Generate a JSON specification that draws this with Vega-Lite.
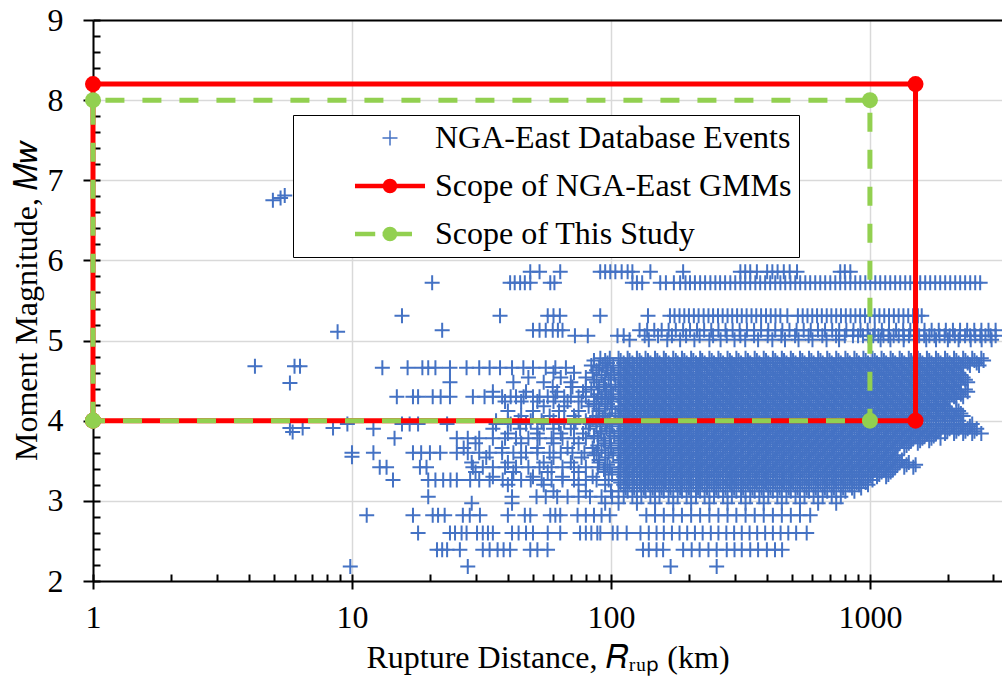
{
  "$schema": "https://vega.github.io/schema/vega-lite/v6.json",
  "width": 909,
  "height": 561,
  "autosize": "none",
  "padding": {"left": 93, "top": 20, "right": 0, "bottom": 102},
  "background": "white",
  "config": {"view": {"stroke": null}, "font": "Liberation Serif"},
  "datasets": {
    "red": [
      {"r": 1, "m": 4, "o": 0},
      {"r": 1, "m": 8.2, "o": 1},
      {"r": 1500, "m": 8.2, "o": 2},
      {"r": 1500, "m": 4, "o": 3},
      {"r": 1, "m": 4, "o": 4}
    ],
    "green": [
      {"r": 1, "m": 4, "o": 0},
      {"r": 1, "m": 8, "o": 1},
      {"r": 1000, "m": 8, "o": 2},
      {"r": 1000, "m": 4, "o": 3},
      {"r": 1, "m": 4, "o": 4}
    ],
    "pts": [
      {"m": 6.75, "r": [4.95]},
      {"m": 6.78, "r": [5.3]},
      {"m": 6.81, "r": [5.5]},
      {"m": 5.11, "r": [8.8]},
      {"m": 4.68, "r": [4.22, 6.0, 6.3]},
      {"m": 4.47, "r": [5.76]},
      {"m": 3.91, "r": [5.76, 6.45, 8.45]},
      {"m": 3.86, "r": [5.9]},
      {"m": 3.55, "r": [10]},
      {"m": 5.86, "r": [48.8, 53, 63.7, 90.9, 95, 99.4, 104, 110, 116, 121, 142, 190, 316, 330, 345, 366, 401, 420, 440, 465, 490, 523, 768, 800, 840]},
      {"m": 5.72, "r": [20.4, 40.8, 42.5, 44.6, 46.5, 48.8, 58.3, 60.5, 121, 126, 132, 155, 163, 175, 185, 194, 202, 211, 221, 231, 242, 253, 264, 276, 289, 302, 316, 330, 345, 361, 377, 394, 412, 431, 451, 471, 493, 515, 538, 563, 588, 615, 643, 672, 703, 735, 768, 803, 840, 878, 918, 960, 1003, 1049, 1096, 1146, 1198, 1252, 1309, 1369, 1431, 1496, 1564, 1635, 1709, 1787, 1868, 1953, 2042, 2135, 2231, 2332, 2439, 2550, 2665]},
      {"m": 5.31, "r": [15.6, 37.3, 57, 60, 63.5, 90.9, 139, 169, 176, 184, 192, 200, 209, 218, 228, 238, 248, 259, 270, 282, 294, 307, 320, 334, 349, 364, 380, 397, 414, 432, 451, 480, 527, 550, 574, 599, 625, 652, 681, 710, 741, 773, 807, 842, 879, 917, 957, 999, 1043, 1088, 1136, 1185, 1237, 1291, 1347, 1406, 1468, 1532, 1585]},
      {"m": 5.13, "r": [22.3, 50, 53, 56, 59.6, 62.4, 65, 129, 138, 147, 157, 167, 178, 190, 202, 215, 229, 244, 260, 277, 295, 314, 335, 357, 380, 405, 431, 459, 489, 521, 555, 591, 630, 671, 715, 761, 811, 864, 920, 980, 1044, 1112, 1185, 1262, 1344, 1432, 1525, 1625, 1731, 1844, 1964, 2092, 2229, 2374, 2529, 2694, 2870, 3057]},
      {"m": 5.06, "r": [72.6, 81.4, 106, 112, 135, 152, 172, 195, 220, 248, 280, 316, 357, 403, 455, 514, 580, 655, 740, 800, 860, 900, 940, 985, 1030, 1078, 1128, 1180, 1235, 1292, 1352, 1415, 1480, 1549, 1621, 1696, 1775, 1857, 1943, 2033, 2128, 2226, 2330, 2438, 2551, 2669, 2793, 2923, 3058]},
      {"m": 5.01, "r": [118, 140, 165, 185, 210, 240, 265, 300, 330, 370, 420, 470, 530, 600, 680, 760, 1000, 1100, 1200, 1350, 1500, 1650, 1800, 2000, 2200, 2450, 2700, 2950]},
      {"m": 4.78, "r": [91, 99, 107, 116, 126, 136, 148, 160, 174, 188, 204, 221, 240, 260, 282, 305, 331, 359, 389, 422, 457, 495, 537, 582, 631, 684, 741, 804, 871, 944, 1023, 1109, 1202, 1303, 1413, 1531, 1660, 1799, 1950, 2113, 2291, 2483, 2692]},
      {"m": 4.75, "r": [86, 95, 109, 118, 129, 139, 151, 163, 178, 192, 208, 225, 245, 265, 288, 311, 338, 366, 397, 431, 466, 505, 548, 594, 644, 698, 756, 820, 889, 963, 1044, 1132, 1226, 1329, 1442, 1562, 1694, 1836, 1990, 2156, 2337, 2533, 2747]},
      {"m": 4.72, "r": [97, 112, 121, 131, 142, 154, 167, 181, 196, 213, 230, 250, 271, 293, 318, 345, 374, 405, 439, 476, 516, 559, 606, 657, 712, 772, 836, 907, 983, 1065, 1155, 1252, 1357, 1471, 1594, 1728, 1873, 2030, 2200, 2385, 2585]},
      {"m": 4.69, "r": [84, 93, 102, 114, 123, 134, 145, 157, 170, 185, 200, 217, 235, 255, 277, 299, 324, 352, 382, 413, 448, 486, 526, 570, 618, 670, 726, 788, 853, 925, 1003, 1087, 1178, 1277, 1385, 1501, 1626, 1763, 1911, 2071, 2245, 2433, 2638]},
      {"m": 4.66, "r": [13.1, 16.4, 18.7, 19.7, 21, 23.9, 27.7, 31, 34, 37.3, 41.5, 45.9, 50, 56, 61, 67, 90, 97, 107, 116, 126, 136, 148, 160, 174, 188, 204, 221, 240, 260, 282, 305, 331, 359, 389, 422, 457, 495, 537, 582, 631, 684, 741, 804, 871, 944, 1023, 1109, 1202, 1303, 1413, 1531, 1660, 1799, 1950, 2113, 2291]},
      {"m": 4.63, "r": [88, 96, 109, 118, 129, 139, 151, 163, 178, 192, 208, 225, 245, 265, 288, 311, 338, 366, 397, 431, 466, 505, 548, 594, 644, 698, 756, 820, 889, 963, 1044, 1132, 1226, 1329, 1442, 1562, 1694, 1836, 1990, 2156]},
      {"m": 4.6, "r": [60, 72, 85, 100, 112, 121, 131, 142, 154, 167, 181, 196, 213, 230, 250, 271, 293, 318, 345, 374, 405, 439, 476, 516, 559, 606, 657, 712, 772, 836, 907, 983, 1065, 1155, 1252, 1357, 1471, 1594, 1728, 1873, 2030, 2200]},
      {"m": 4.57, "r": [92, 103, 114, 123, 134, 145, 157, 170, 185, 200, 217, 235, 255, 277, 299, 324, 352, 382, 413, 448, 486, 526, 570, 618, 670, 726, 788, 853, 925, 1003, 1087, 1178, 1277, 1385, 1501, 1626, 1763, 1911, 2071, 2245]},
      {"m": 4.54, "r": [48, 64, 80, 95, 107, 116, 126, 136, 148, 160, 174, 188, 204, 221, 240, 260, 282, 305, 331, 359, 389, 422, 457, 495, 537, 582, 631, 684, 741, 804, 871, 944, 1023, 1109, 1202, 1303, 1413, 1531, 1660, 1799, 1950, 2113, 2291]},
      {"m": 4.51, "r": [86, 98, 109, 118, 129, 139, 151, 163, 178, 192, 208, 225, 245, 265, 288, 311, 338, 366, 397, 431, 466, 505, 548, 594, 644, 698, 756, 820, 889, 963, 1044, 1132, 1226, 1329, 1442, 1562, 1694, 1836, 1990, 2156, 2337]},
      {"m": 4.48, "r": [23.9, 42, 55, 70, 88, 112, 121, 131, 142, 154, 167, 181, 196, 213, 230, 250, 271, 293, 318, 345, 374, 405, 439, 476, 516, 559, 606, 657, 712, 772, 836, 907, 983, 1065, 1155, 1252, 1357, 1471, 1594, 1728, 1873, 2030, 2200, 2385]},
      {"m": 4.45, "r": [94, 104, 114, 123, 134, 145, 157, 170, 185, 200, 217, 235, 255, 277, 299, 324, 352, 382, 413, 448, 486, 526, 570, 618, 670, 726, 788, 853, 925, 1003, 1087, 1178, 1277, 1385, 1501, 1626, 1763, 1911, 2071, 2245]},
      {"m": 4.42, "r": [59.6, 71, 80, 90, 100, 107, 116, 126, 136, 148, 160, 174, 188, 204, 221, 240, 260, 282, 305, 331, 359, 389, 422, 457, 495, 537, 582, 631, 684, 741, 804, 871, 944, 1023, 1109, 1202, 1303, 1413, 1531, 1660, 1799, 1950, 2113]},
      {"m": 4.39, "r": [84, 96, 109, 118, 129, 139, 151, 163, 178, 192, 208, 225, 245, 265, 288, 311, 338, 366, 397, 431, 466, 505, 548, 594, 644, 698, 756, 820, 889, 963, 1044, 1132, 1226, 1329, 1442, 1562, 1694, 1836, 1990, 2156, 2337]},
      {"m": 4.36, "r": [35, 47, 62, 78, 95, 112, 121, 131, 142, 154, 167, 181, 196, 213, 230, 250, 271, 293, 318, 345, 374, 405, 439, 476, 516, 559, 606, 657, 712, 772, 836, 907, 983, 1065, 1155, 1252, 1357, 1471, 1594, 1728, 1873, 2030, 2200, 2385]},
      {"m": 4.33, "r": [89, 102, 114, 123, 134, 145, 157, 170, 185, 200, 217, 235, 255, 277, 299, 324, 352, 382, 413, 448, 486, 526, 570, 618, 670, 726, 788, 853, 925, 1003, 1087, 1178, 1277, 1385, 1501, 1626, 1763, 1911, 2071, 2245]},
      {"m": 4.3, "r": [14.9, 17.2, 18, 20.5, 22, 23.9, 29.3, 32.5, 35, 38, 41, 43, 46, 50, 53, 57, 61, 66, 70, 75, 80, 86, 92, 98, 107, 116, 126, 136, 148, 160, 174, 188, 204, 221, 240, 260, 282, 305, 331, 359, 389, 422, 457, 495, 537, 582, 631, 684, 741, 804, 871, 944, 1023, 1109, 1202, 1303, 1413, 1531, 1660, 1799, 1950, 2113, 2291]},
      {"m": 4.27, "r": [92, 100, 109, 118, 129, 139, 151, 163, 178, 192, 208, 225, 245, 265, 288, 311, 338, 366, 397, 431, 466, 505, 548, 594, 644, 698, 756, 820, 889, 963, 1044, 1132, 1226, 1329, 1442, 1562, 1694, 1836, 1990, 2156]},
      {"m": 4.24, "r": [39, 45, 52, 60, 68, 77, 88, 100, 112, 121, 131, 142, 154, 167, 181, 196, 213, 230, 250, 271, 293, 318, 345, 374, 405, 439, 476, 516, 559, 606, 657, 712, 772, 836, 907, 983, 1065, 1155, 1252, 1357, 1471, 1594, 1728, 1873, 2030]},
      {"m": 4.21, "r": [86, 97, 114, 123, 134, 145, 157, 170, 185, 200, 217, 235, 255, 277, 299, 324, 352, 382, 413, 448, 486, 526, 570, 618, 670, 726, 788, 853, 925, 1003, 1087, 1178, 1277, 1385, 1501, 1626, 1763, 1911]},
      {"m": 4.18, "r": [55, 66, 82, 95, 107, 116, 126, 136, 148, 160, 174, 188, 204, 221, 240, 260, 282, 305, 331, 359, 389, 422, 457, 495, 537, 582, 631, 684, 741, 804, 871, 944, 1023, 1109, 1202, 1303, 1413, 1531, 1660, 1799, 1950]},
      {"m": 4.15, "r": [90, 101, 109, 118, 129, 139, 151, 163, 178, 192, 208, 225, 245, 265, 288, 311, 338, 366, 397, 431, 466, 505, 548, 594, 644, 698, 756, 820, 889, 963, 1044, 1132, 1226, 1329, 1442, 1562, 1694, 1836, 1990, 2156]},
      {"m": 4.12, "r": [40, 50, 63, 75, 90, 112, 121, 131, 142, 154, 167, 181, 196, 213, 230, 250, 271, 293, 318, 345, 374, 405, 439, 476, 516, 559, 606, 657, 712, 772, 836, 907, 983, 1065, 1155, 1252, 1357, 1471, 1594, 1728, 1873, 2030, 2200]},
      {"m": 4.09, "r": [95, 104, 114, 123, 134, 145, 157, 170, 185, 200, 217, 235, 255, 277, 299, 324, 352, 382, 413, 448, 486, 526, 570, 618, 670, 726, 788, 853, 925, 1003, 1087, 1178, 1277, 1385, 1501, 1626, 1763, 1911, 2071, 2245]},
      {"m": 4.06, "r": [45, 58, 72, 88, 99, 107, 116, 126, 136, 148, 160, 174, 188, 204, 221, 240, 260, 282, 305, 331, 359, 389, 422, 457, 495, 537, 582, 631, 684, 741, 804, 871, 944, 1023, 1109, 1202, 1303, 1413, 1531, 1660, 1799, 1950, 2113, 2291]},
      {"m": 4.03, "r": [85, 93, 109, 118, 129, 139, 151, 163, 178, 192, 208, 225, 245, 265, 288, 311, 338, 366, 397, 431, 466, 505, 548, 594, 644, 698, 756, 820, 889, 963, 1044, 1132, 1226, 1329, 1442, 1562, 1694, 1836, 1990, 2156]},
      {"m": 4.0, "r": [36, 40, 44, 49, 54, 60, 66, 73, 80, 88, 97, 112, 121, 131, 142, 154, 167, 181, 196, 213, 230, 250, 271, 293, 318, 345, 374, 405, 439, 476, 516, 559, 606, 657, 712, 772, 836, 907, 983, 1065, 1155, 1252, 1357, 1471, 1594, 1728, 1873, 2030, 2200]},
      {"m": 3.96, "r": [9.6, 15.6, 16.7, 18, 23.3, 36, 41, 47, 55, 63, 72, 83, 95, 107, 116, 126, 136, 148, 160, 174, 188, 204, 221, 240, 260, 282, 305, 331, 359, 389, 422, 457, 495, 537, 582, 631, 684, 741, 804, 871, 944, 1023, 1109, 1202, 1303, 1413, 1531, 1660, 1799, 1950, 2113, 2291, 2483]},
      {"m": 3.93, "r": [88, 101, 114, 123, 134, 145, 157, 170, 185, 200, 217, 235, 255, 277, 299, 324, 352, 382, 413, 448, 486, 526, 570, 618, 670, 726, 788, 853, 925, 1003, 1087, 1178, 1277, 1385, 1501, 1626, 1763, 1911, 2071, 2245, 2433]},
      {"m": 3.9, "r": [12.1, 35, 44.6, 52, 60, 70, 82, 96, 112, 121, 131, 142, 154, 167, 181, 196, 213, 230, 250, 271, 293, 318, 345, 374, 405, 439, 476, 516, 559, 606, 657, 712, 772, 836, 907, 983, 1065, 1155, 1252, 1357, 1471, 1594, 1728, 1873, 2030, 2200, 2385, 2585]},
      {"m": 3.87, "r": [91, 99, 109, 118, 129, 139, 151, 163, 178, 192, 208, 225, 245, 265, 288, 311, 338, 366, 397, 431, 466, 505, 548, 594, 644, 698, 756, 820, 889, 963, 1044, 1132, 1226, 1329, 1442, 1562, 1694, 1836, 1990, 2156, 2337, 2533]},
      {"m": 3.84, "r": [40, 52, 64, 78, 92, 107, 116, 126, 136, 148, 160, 174, 188, 204, 221, 240, 260, 282, 305, 331, 359, 389, 422, 457, 495, 537, 582, 631, 684, 741, 804, 871, 944, 1023, 1109, 1202, 1303, 1413, 1531, 1660, 1799, 1950, 2113, 2291, 2483, 2692]},
      {"m": 3.81, "r": [86, 103, 114, 123, 134, 145, 157, 170, 185, 200, 217, 235, 255, 277, 299, 324, 352, 382, 413, 448, 486, 526, 570, 618, 670, 726, 788, 853, 925, 1003, 1087, 1178, 1277, 1385, 1501, 1626, 1763]},
      {"m": 3.78, "r": [14.6, 25.4, 28, 31, 35, 39, 43, 48, 53, 59, 65, 72, 80, 89, 99, 112, 121, 131, 142, 154, 167, 181, 196, 213, 230, 250, 271, 293, 318, 345, 374, 405, 439, 476, 516, 559, 606, 657, 712, 772, 836, 907, 983, 1065, 1155, 1252, 1357, 1471, 1594, 1728, 1873]},
      {"m": 3.75, "r": [94, 109, 118, 129, 139, 151, 163, 178, 192, 208, 225, 245, 265, 288, 311, 338, 366, 397, 431, 466, 505, 548, 594, 644, 698, 756, 820, 889, 963, 1044, 1132, 1226, 1329, 1442, 1562, 1694]},
      {"m": 3.72, "r": [30, 45, 60, 75, 95, 107, 116, 126, 136, 148, 160, 174, 188, 204, 221, 240, 260, 282, 305, 331, 359, 389, 422, 457, 495, 537, 582, 631, 684, 741, 804, 871, 944, 1023, 1109, 1202, 1303, 1413, 1531]},
      {"m": 3.69, "r": [89, 100, 114, 123, 134, 145, 157, 170, 185, 200, 217, 235, 255, 277, 299, 324, 352, 382, 413, 448, 486, 526, 570, 618, 670, 726, 788, 853, 925, 1003, 1087, 1178, 1277, 1385]},
      {"m": 3.66, "r": [27, 38, 52, 68, 85, 100, 112, 121, 131, 142, 154, 167, 181, 196, 213, 230, 250, 271, 293, 318, 345, 374, 405, 439, 476, 516, 559, 606, 657, 712, 772, 836, 907, 983, 1065, 1155, 1252, 1357]},
      {"m": 3.63, "r": [92, 109, 118, 129, 139, 151, 163, 178, 192, 208, 225, 245, 265, 288, 311, 338, 366, 397, 431, 466, 505, 548, 594, 644, 698, 756, 820, 889, 963, 1044, 1132, 1226]},
      {"m": 3.6, "r": [10, 12.1, 17.2, 18.5, 20, 21.9, 25.4, 28, 31, 34, 38, 42, 47, 52, 58, 64, 71, 79, 88, 98, 107, 116, 126, 136, 148, 160, 174, 188, 204, 221, 240, 260, 282, 305, 331, 359, 389, 422, 457, 495, 537, 582, 631, 684, 741, 804, 871, 944, 1023, 1109, 1202]},
      {"m": 3.57, "r": [86, 102, 114, 123, 134, 145, 157, 170, 185, 200, 217, 235, 255, 277, 299, 324, 352, 382, 413, 448, 486, 526, 570, 618, 670, 726, 788, 853, 925, 1003, 1087, 1178, 1277]},
      {"m": 3.54, "r": [33, 45, 60, 77, 95, 112, 121, 131, 142, 154, 167, 181, 196, 213, 230, 250, 271, 293, 318, 345, 374, 405, 439, 476, 516, 559, 606, 657, 712, 772, 836, 907, 983, 1065, 1155, 1252]},
      {"m": 3.51, "r": [90, 109, 118, 129, 139, 151, 163, 178, 192, 208, 225, 245, 265, 288, 311, 338, 366, 397, 431, 466, 505, 548, 594, 644, 698, 756, 820, 889, 963, 1044, 1132, 1226, 1329]},
      {"m": 3.48, "r": [29, 40, 55, 70, 90, 107, 116, 126, 136, 148, 160, 174, 188, 204, 221, 240, 260, 282, 305, 331, 359, 389, 422, 457, 495, 537, 582, 631, 684, 741, 804, 871, 944, 1023, 1109, 1202, 1303, 1413]},
      {"m": 3.45, "r": [97, 114, 123, 134, 145, 157, 170, 185, 200, 217, 235, 255, 277, 299, 324, 352, 382, 413, 448, 486, 526, 570, 618, 670, 726, 788, 853, 925, 1003, 1087, 1178, 1277, 1385, 1501]},
      {"m": 3.42, "r": [12.8, 13.6, 18.3, 19.4, 29.3, 32, 35, 39, 43, 48, 53, 59, 65, 72, 80, 89, 99, 112, 121, 131, 142, 154, 167, 181, 196, 213, 230, 250, 271, 293, 318, 345, 374, 405, 439, 476, 516, 559, 606, 657, 712, 772, 836, 907, 983, 1065, 1155, 1252, 1357, 1471]},
      {"m": 3.39, "r": [94, 109, 118, 129, 139, 151, 163, 178, 192, 208, 225, 245, 265, 288, 311, 338, 366, 397, 431, 466, 505, 548, 594, 644, 698, 756, 820, 889, 963, 1044, 1132, 1226]},
      {"m": 3.36, "r": [30, 42, 57, 75, 95, 107, 116, 126, 136, 148, 160, 174, 188, 204, 221, 240, 260, 282, 305, 331, 359, 389, 422, 457, 495, 537, 582, 631, 684, 741, 804, 871, 944, 1023, 1109, 1202]},
      {"m": 3.33, "r": [101, 114, 123, 134, 145, 157, 170, 185, 200, 217, 235, 255, 277, 299, 324, 352, 382, 413, 448, 486, 526, 570, 618, 670, 726, 788, 853, 925, 1003, 1087, 1178]},
      {"m": 3.3, "r": [35, 50, 65, 85, 112, 121, 131, 142, 154, 167, 181, 196, 213, 230, 250, 271, 293, 318, 345, 374, 405, 439, 476, 516, 559, 606, 657, 712, 772, 836, 907, 983, 1065, 1155]},
      {"m": 3.26, "r": [14.4, 19.7, 21, 22.5, 24, 25.4, 28.6, 31, 34, 38.2, 41.5, 45, 49, 54, 59, 65, 72, 80, 88, 98, 107, 116, 126, 136, 148, 160, 174, 188, 204, 221, 240, 260, 282, 305, 331, 359, 389, 422, 457, 495, 537, 582, 631, 684, 741, 804, 871, 944, 1023]},
      {"m": 3.23, "r": [109, 118, 129, 139, 151, 163, 178, 192, 208, 225, 245, 265, 288, 311, 338, 366, 397, 431, 466, 505, 548, 594, 644, 698, 756, 820, 889, 963]},
      {"m": 3.2, "r": [40, 55, 75, 95, 112, 121, 131, 142, 154, 167, 181, 196, 213, 230, 250, 271, 293, 318, 345, 374, 405, 439, 476, 516, 559, 606, 657, 712, 772, 836, 907, 983]},
      {"m": 3.16, "r": [114, 123, 134, 145, 157, 170, 185, 200, 217, 235, 255, 277, 299, 324, 352, 382, 413, 448, 486, 526, 570, 618, 670, 726, 788, 853, 925]},
      {"m": 3.12, "r": [60, 80, 100, 107, 116, 126, 136, 148, 160, 174, 188, 204, 221, 240, 260, 282, 305, 331, 359, 389, 422, 457, 495, 537, 582, 631, 684, 741, 804, 871]},
      {"m": 3.05, "r": [19.7, 41.5, 51.6, 56, 62, 68, 75, 83, 92, 101, 112, 121, 131, 142, 154, 167, 181, 196, 213, 230, 250, 271, 293, 318, 345, 374, 405, 439, 476, 516, 559, 606, 657, 712, 772]},
      {"m": 2.97, "r": [29, 41.5, 95, 107, 126, 148, 174, 204, 240, 282, 331, 389, 457, 537, 631, 741]},
      {"m": 2.82, "r": [11.4, 17.2, 20.5, 21.5, 22.8, 26.8, 28.5, 31.2, 40, 46.5, 48.8, 58.3, 61, 63.7, 74.3, 80, 86, 92, 99, 137, 148, 160, 174, 188, 204, 221, 240, 260, 282, 305, 331, 359, 389, 422, 457, 495, 537, 588]},
      {"m": 2.6, "r": [18, 23.9, 25, 26.5, 27.7, 30.4, 32, 33.5, 35, 41.5, 44, 47, 50, 57, 63.7, 76, 80, 84, 88.6, 91, 101.6, 106, 115, 130, 140, 150, 160, 172, 184, 197, 211, 226, 243, 260, 279, 299, 320, 343, 367, 394, 422, 452, 484, 519, 570]},
      {"m": 2.39, "r": [21.3, 22.3, 23.3, 26.1, 32, 34, 36.5, 38.5, 40.8, 48.8, 52, 56.9, 133, 140, 150, 159, 190, 205, 220, 238, 256, 280, 300, 320, 345, 370, 400, 430, 458]},
      {"m": 2.18, "r": [9.85, 28, 170, 256]}
    ]
  },
  "layer": [
    {
      "data": {"name": "pts"},
      "transform": [{"flatten": ["r"]}],
      "mark": {"type": "point", "filled": true, "strokeWidth": 2, "size": 225, "opacity": 1},
      "encoding": {
        "x": {
          "field": "r", "type": "quantitative",
          "scale": {"type": "log", "domain": [1, 3236], "nice": false},
          "axis": {
            "orient": "bottom", "values": [1, 10, 100, 1000], "format": "d",
            "title": "Rupture Distance, 𝑅ᵣᵤₚ (km)",
            "titleFont": "Liberation Serif", "titleFontSize": 32, "titleFontWeight": "normal", "titleColor": "black",
            "titleY": 86, "titleBaseline": "alphabetic",
            "labelFont": "Liberation Serif", "labelFontSize": 32, "labelColor": "black", "labelPadding": 13,
            "labelFlush": false, "labelOverlap": false,
            "tickSize": 8, "tickWidth": 2, "tickColor": "black",
            "domainColor": "black", "domainWidth": 2,
            "grid": true, "gridColor": "#D9D9D9", "gridWidth": 1.5, "offset": 0
          }
        },
        "y": {
          "field": "m", "type": "quantitative",
          "scale": {"domain": [2, 9], "nice": false, "zero": false},
          "axis": {
            "orient": "left", "values": [2, 3, 4, 5, 6, 7, 8, 9],
            "title": "Moment Magnitude, 𝑀𝑤",
            "titleFont": "Liberation Serif", "titleFontSize": 32, "titleFontWeight": "normal", "titleColor": "black",
            "titleAngle": -90, "titleX": -57, "titleY": 280.5, "titleAlign": "center", "titleBaseline": "alphabetic",
            "labelFont": "Liberation Serif", "labelFontSize": 32, "labelColor": "black", "labelPadding": 20,
            "labelFlush": false, "labelOverlap": false,
            "tickSize": 10, "tickWidth": 2, "tickColor": "black",
            "domainColor": "black", "domainWidth": 2,
            "grid": true, "gridColor": "#D9D9D9", "gridWidth": 1.5, "offset": 0
          }
        },
        "color": {
          "datum": "NGA-East Database Events",
          "scale": {
            "domain": ["NGA-East Database Events", "Scope of NGA-East GMMs", "Scope of This Study"],
            "range": ["#4472C4", "#FF0000", "#92D050"]
          },
          "legend": {
            "orient": "none", "legendX": 200, "legendY": 95, "title": null,
            "labelFont": "Liberation Serif", "labelFontSize": 32, "labelColor": "black", "labelLimit": 900,
            "labelExpr": "datum.label + '         '",
            "symbolSize": 225, "symbolOffset": 74, "labelOffset": 29, "padding": 7, "rowPadding": 16,
            "fillColor": "white", "strokeColor": "black",
            "encode": {"legend": {"strokeWidth": {"value": 2}}}
          }
        },
        "stroke": {
          "datum": "NGA-East Database Events",
          "scale": {
            "domain": ["NGA-East Database Events", "Scope of NGA-East GMMs", "Scope of This Study"],
            "range": ["#4472C4", "#FF0000", "#92D050"]
          },
          "legend": {
            "orient": "none", "legendX": 200, "legendY": 95, "title": null,
            "labelFont": "Liberation Serif", "labelFontSize": 32, "labelColor": "black", "labelLimit": 900,
            "labelExpr": "datum.label + '         '",
            "symbolSize": 225, "symbolOffset": 74, "labelOffset": 29, "padding": 7, "rowPadding": 16,
            "fillColor": "white", "strokeColor": "black",
            "encode": {"legend": {"strokeWidth": {"value": 2}}}
          }
        },
        "shape": {
          "datum": "NGA-East Database Events",
          "scale": {
            "domain": ["NGA-East Database Events", "Scope of NGA-East GMMs", "Scope of This Study"],
            "range": [
              "M-1,0H1M0,-1V1",
              "M-4.67,-0.2H4.67M-4.67,0H4.67M-4.67,0.2H4.67M0.87,0A0.87,0.87,0,1,1,-0.87,0A0.87,0.87,0,1,1,0.87,0Z",
              "M-4.67,-0.2H-1.97M-4.67,0H-1.97M-4.67,0.2H-1.97M-0.99,-0.2H2.93M-0.99,0H2.93M-0.99,0.2H2.93M0.87,0A0.87,0.87,0,1,1,-0.87,0A0.87,0.87,0,1,1,0.87,0Z"
            ]
          },
          "legend": {
            "orient": "none", "legendX": 200, "legendY": 95, "title": null,
            "labelFont": "Liberation Serif", "labelFontSize": 32, "labelColor": "black", "labelLimit": 900,
            "labelExpr": "datum.label + '         '",
            "symbolSize": 225, "symbolOffset": 74, "labelOffset": 29, "padding": 7, "rowPadding": 16,
            "fillColor": "white", "strokeColor": "black",
            "encode": {"legend": {"strokeWidth": {"value": 2}}}
          }
        }
      }
    },
    {
      "data": {"name": "red"},
      "mark": {"type": "line", "color": "#FF0000", "strokeWidth": 5},
      "encoding": {
        "x": {
          "field": "r", "type": "quantitative",
          "axis": {
            "orient": "bottom",
            "values": [1, 2, 3, 4, 5, 6, 7, 8, 9, 10, 20, 30, 40, 50, 60, 70, 80, 90, 100, 200, 300, 400, 500, 600, 700, 800, 900, 1000, 2000, 3000],
            "tickSize": -7, "tickWidth": 2, "tickColor": "black",
            "labels": false, "domain": false, "grid": false, "title": null, "offset": 0
          }
        },
        "y": {
          "field": "m", "type": "quantitative",
          "axis": {
            "orient": "left",
            "values": [2, 2.2, 2.4, 2.6, 2.8, 3, 3.2, 3.4, 3.6, 3.8, 4, 4.2, 4.4, 4.6, 4.8, 5, 5.2, 5.4, 5.6, 5.8, 6, 6.2, 6.4, 6.6, 6.8, 7, 7.2, 7.4, 7.6, 7.8, 8, 8.2, 8.4, 8.6, 8.8, 9],
            "tickSize": -7, "tickWidth": 2, "tickColor": "black",
            "labels": false, "domain": false, "grid": false, "title": null, "offset": 0
          }
        },
        "order": {"field": "o", "type": "quantitative"}
      }
    },
    {
      "data": {"name": "red"},
      "mark": {"type": "circle", "color": "#FF0000", "size": 256, "opacity": 1},
      "encoding": {
        "x": {"field": "r", "type": "quantitative", "axis": null},
        "y": {"field": "m", "type": "quantitative", "axis": null}
      }
    },
    {
      "data": {"name": "green"},
      "mark": {"type": "line", "color": "#92D050", "strokeWidth": 5, "strokeDash": [19, 18]},
      "encoding": {
        "x": {
          "field": "r", "type": "quantitative",
          "axis": {"orient": "top", "ticks": false, "labels": false, "grid": false, "title": null, "domainColor": "black", "domainWidth": 2, "offset": 0}
        },
        "y": {"field": "m", "type": "quantitative", "axis": null},
        "order": {"field": "o", "type": "quantitative"}
      }
    },
    {
      "data": {"name": "green"},
      "mark": {"type": "circle", "color": "#92D050", "size": 256, "opacity": 1},
      "encoding": {
        "x": {"field": "r", "type": "quantitative", "axis": null},
        "y": {"field": "m", "type": "quantitative", "axis": null}
      }
    }
  ],
  "resolve": {"axis": {"x": "independent", "y": "independent"}}
}
